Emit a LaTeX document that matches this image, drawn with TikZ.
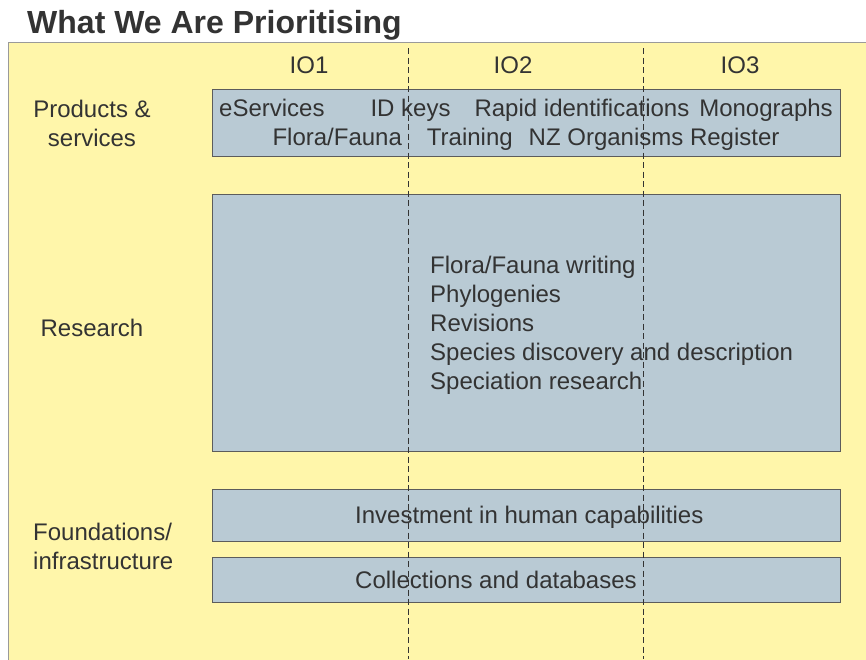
\documentclass[tikz,border=0pt]{standalone}
\usepackage{fontspec}
\setmainfont{Liberation Sans}
\usepackage{tikz}
\usepackage{xcolor}
\definecolor{panel}{HTML}{FFF6AA}
\definecolor{band}{HTML}{B9CAD4}
\definecolor{ink}{HTML}{333333}
\definecolor{rule}{HTML}{9A9A9A}

\begin{document}
\begin{tikzpicture}[
  x=1pt, y=-1pt,
  font=\fontsize{24}{29}\selectfont, text=ink,
  band/.style={draw=ink!80, fill=band, line width=0.9pt, minimum width=628pt, inner sep=0pt},
  rowlabel/.style={align=center, inner sep=0pt},
  divider/.style={draw=ink, line width=0.8pt, dash pattern=on 6pt off 3.5pt}
]
\useasboundingbox (0,0) rectangle (866,659);

% yellow panel, edge only on the left and top
\fill[panel] (8,42) rectangle (870,663);
\draw[rule, line width=0.9pt] (8,663) |- (870,42);

\node[anchor=base west, inner sep=0pt, font=\fontsize{32}{36}\selectfont\bfseries] (title) at (27,33) {What We Are Prioritising};

% column heads
\node[anchor=base, inner sep=0pt] (io1) at (309,73) {IO1};
\node[anchor=base, inner sep=0pt] (io2) at (513,73) {IO2};
\node[anchor=base, inner sep=0pt] (io3) at (740,73) {IO3};

% row heads
\node[rowlabel] (prod) at (92,123) {Products \&\\services};
\node[rowlabel] (res) at (92,328) {Research};
\node[rowlabel, align=left, anchor=west] (found) at (33,546) {Foundations/\\infrastructure};

% bands
\node[band, minimum height=67pt] (products) at (526,122.5) {};
\node[align=center, inner sep=0pt] (prodtext) at (526,124.5)
  {eServices\hspace{46pt}ID keys\hspace{24pt}Rapid identifications\hspace{10pt}Monographs\\
   Flora/Fauna\hspace{25pt}Training\hspace{16pt}NZ Organisms Register};
\node[band, minimum height=257pt] (research) at (526,322.5) {};
\node[align=left, anchor=west, inner sep=0pt] (restext) at (430,325)
  {Flora/Fauna writing\\Phylogenies\\Revisions\\Species discovery and description\\Speciation research};
\node[band, minimum height=52pt] (people) at (526,515) {};
\node[anchor=west, inner sep=0pt] (peopletext) at (355,517) {Investment in human capabilities};
\node[band, minimum height=45pt] (collections) at (526,579.5) {};
\node[anchor=west, inner sep=0pt] (colltext) at (355,580) {Collections and databases};

% dashed dividers between the IO columns
\coordinate (d1top) at (408,48);
\coordinate (d1bot) at (408,659);
\coordinate (d2top) at (643,48);
\coordinate (d2bot) at (643,659);
\draw[divider] (d1top) -- (d1bot);
\draw[divider] (d2top) -- (d2bot);
\end{tikzpicture}
\end{document}
